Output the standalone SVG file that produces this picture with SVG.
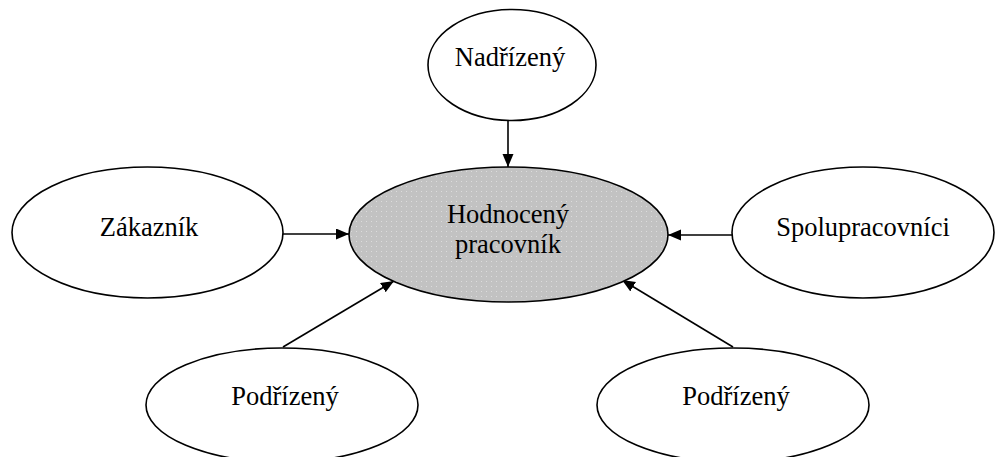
<svg xmlns="http://www.w3.org/2000/svg" width="995" height="457" viewBox="0 0 995 457">
  <style>
    .node { fill: #ffffff; stroke: #000000; stroke-width: 1.6; }
    .center { fill: url(#dots); stroke: #000000; stroke-width: 1.6; }
    .label { font-family: "Liberation Serif", "Times New Roman", serif; font-size: 26.5px; fill: #000000; text-anchor: middle; }
    .conn { stroke: #000000; stroke-width: 1.6; fill: none; marker-end: url(#arrow); }
  </style>
  <defs>
    <pattern id="dots" width="5" height="5" patternUnits="userSpaceOnUse">
      <rect width="5" height="5" fill="#c2c2c2"/>
      <rect x="1" y="1" width="1" height="1" fill="#dcdcdc"/>
    </pattern>
    <marker id="arrow" markerUnits="userSpaceOnUse" markerWidth="14" markerHeight="12" refX="13" refY="5.5" orient="auto">
      <path d="M0,0 L13,5.5 L0,11 z" fill="#000000"/>
    </marker>
  </defs>

  <g id="connectors">
    <line class="conn" x1="508" y1="121" x2="508" y2="167"/>
    <line class="conn" x1="283" y1="234" x2="349" y2="234"/>
    <line class="conn" x1="732" y1="235" x2="668" y2="235"/>
    <line class="conn" x1="283" y1="347" x2="394" y2="281"/>
    <line class="conn" x1="733" y1="347" x2="622" y2="280"/>
  </g>

  <g id="hodnoceny">
    <ellipse class="center" cx="508.5" cy="234.5" rx="159.5" ry="67.5"/>
    <text class="label" x="508" y="223">Hodnocený</text>
    <text class="label" x="508" y="253">pracovník</text>
  </g>

  <g id="nadrizeny">
    <ellipse class="node" cx="512" cy="65" rx="84" ry="55.5"/>
    <text class="label" x="510" y="66">Nadřízený</text>
  </g>

  <g id="zakaznik">
    <ellipse class="node" cx="147.5" cy="232.5" rx="135.5" ry="65.5"/>
    <text class="label" x="149" y="236">Zákazník</text>
  </g>

  <g id="spolupracovnici">
    <ellipse class="node" cx="863" cy="232.5" rx="131" ry="65.5"/>
    <text class="label" x="863" y="236">Spolupracovníci</text>
  </g>

  <g id="podrizeny-left">
    <ellipse class="node" cx="282" cy="405" rx="136" ry="57"/>
    <text class="label" x="285" y="405">Podřízený</text>
  </g>

  <g id="podrizeny-right">
    <ellipse class="node" cx="733" cy="405" rx="136" ry="57"/>
    <text class="label" x="736" y="405">Podřízený</text>
  </g>
</svg>
